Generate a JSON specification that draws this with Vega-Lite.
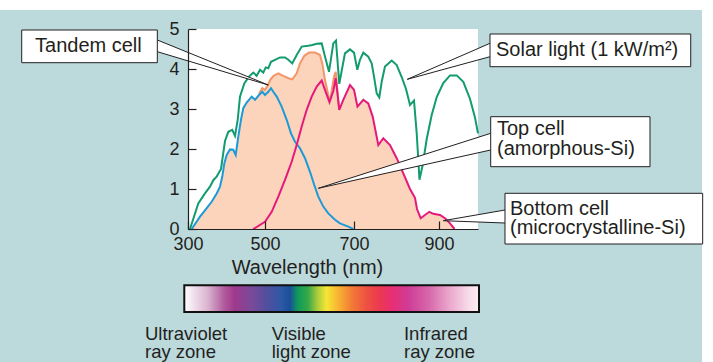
{
  "$schema": "https://vega.github.io/schema/vega-lite/v6.json",
  "width": 290,
  "height": 200,
  "autosize": "none",
  "padding": {"left": 188, "top": 29, "right": 235, "bottom": 133},
  "background": "#bcd9dc",
  "view": {"fill": "white", "stroke": null},
  "config": {"font": "Liberation Sans"},
  "datasets": {
    "strips": [
      {"x": -600, "x2": 2000, "y": 5.475, "y2": 6.5},
      {"x": 1506.9, "x2": 2000, "y": -4, "y2": 6.5}
    ],
    "tandem": [
      {"x": 309.6, "y": 0}, {"x": 331.2, "y": 0.31}, {"x": 348.6, "y": 0.52}, {"x": 361.5, "y": 0.68}, {"x": 374.5, "y": 0.89},
      {"x": 383.1, "y": 1.06}, {"x": 389.1, "y": 1.31}, {"x": 394.3, "y": 1.64}, {"x": 400.5, "y": 1.85}, {"x": 409.1, "y": 1.99},
      {"x": 417.6, "y": 1.98}, {"x": 423.9, "y": 1.85}, {"x": 430.6, "y": 2.31}, {"x": 437.6, "y": 2.73}, {"x": 443.6, "y": 3.02},
      {"x": 452.4, "y": 3.16}, {"x": 465.4, "y": 3.31}, {"x": 474.0, "y": 3.23}, {"x": 484.4, "y": 3.38}, {"x": 493.0, "y": 3.52},
      {"x": 500.0, "y": 3.48}, {"x": 506.7, "y": 3.6}, {"x": 511.9, "y": 3.73}, {"x": 519.3, "y": 3.83}, {"x": 529.9, "y": 3.89},
      {"x": 541.2, "y": 3.83}, {"x": 552.4, "y": 3.77}, {"x": 561.3, "y": 3.74}, {"x": 571.2, "y": 3.89}, {"x": 578.6, "y": 4.14},
      {"x": 588.3, "y": 4.33}, {"x": 598.9, "y": 4.41}, {"x": 612.4, "y": 4.41}, {"x": 623.6, "y": 4.35}, {"x": 628.8, "y": 4.14},
      {"x": 634.8, "y": 3.73}, {"x": 642.3, "y": 3.35}, {"x": 646.1, "y": 3.2}, {"x": 655.1, "y": 3.81}, {"x": 658.9, "y": 3.93},
      {"x": 666.9, "y": 2.98}, {"x": 675.9, "y": 3.23}, {"x": 691.0, "y": 3.6}, {"x": 700.0, "y": 3.48}, {"x": 708.2, "y": 3.06},
      {"x": 721.9, "y": 3.23}, {"x": 733.6, "y": 3.14}, {"x": 744.0, "y": 2.81}, {"x": 757.2, "y": 2.1}, {"x": 768.9, "y": 2.27},
      {"x": 784.7, "y": 2.1}, {"x": 800.5, "y": 1.77}, {"x": 816.0, "y": 1.39}, {"x": 831.8, "y": 1.0}, {"x": 843.5, "y": 0.78},
      {"x": 848.2, "y": 0.5}, {"x": 856.9, "y": 0.27}, {"x": 867.0, "y": 0.35}, {"x": 877.2, "y": 0.43}, {"x": 886.6, "y": 0.38},
      {"x": 902.3, "y": 0.35}, {"x": 913.9, "y": 0.27}, {"x": 925.4, "y": 0.14}, {"x": 935.8, "y": 0}
    ],
    "curves": [
      {"s": "Solar light", "x": 305.2, "y": 0}, {"s": "Solar light", "x": 326.7, "y": 0.64}, {"s": "Solar light", "x": 344.1, "y": 0.89},
      {"s": "Solar light", "x": 357.1, "y": 1.06}, {"s": "Solar light", "x": 365.7, "y": 1.22}, {"s": "Solar light", "x": 374.5, "y": 1.31},
      {"s": "Solar light", "x": 385.7, "y": 1.5}, {"s": "Solar light", "x": 396.1, "y": 2.2}, {"s": "Solar light", "x": 404.7, "y": 2.43},
      {"s": "Solar light", "x": 415.0, "y": 2.48}, {"s": "Solar light", "x": 422.1, "y": 2.33}, {"s": "Solar light", "x": 429.1, "y": 2.73},
      {"s": "Solar light", "x": 435.0, "y": 3.31}, {"s": "Solar light", "x": 446.2, "y": 3.64}, {"s": "Solar light", "x": 458.4, "y": 3.81},
      {"s": "Solar light", "x": 469.6, "y": 3.91}, {"s": "Solar light", "x": 478.4, "y": 3.83}, {"s": "Solar light", "x": 487.0, "y": 3.98},
      {"s": "Solar light", "x": 495.6, "y": 3.91}, {"s": "Solar light", "x": 501.6, "y": 4.04}, {"s": "Solar light", "x": 507.4, "y": 4.02},
      {"s": "Solar light", "x": 513.5, "y": 4.18}, {"s": "Solar light", "x": 522.5, "y": 4.23}, {"s": "Solar light", "x": 533.7, "y": 4.29},
      {"s": "Solar light", "x": 544.9, "y": 4.29}, {"s": "Solar light", "x": 552.4, "y": 4.23}, {"s": "Solar light", "x": 561.3, "y": 4.14},
      {"s": "Solar light", "x": 571.2, "y": 4.35}, {"s": "Solar light", "x": 582.5, "y": 4.56}, {"s": "Solar light", "x": 597.3, "y": 4.58},
      {"s": "Solar light", "x": 606.3, "y": 4.6}, {"s": "Solar light", "x": 616.2, "y": 4.63}, {"s": "Solar light", "x": 627.4, "y": 4.64},
      {"s": "Solar light", "x": 634.8, "y": 4.31}, {"s": "Solar light", "x": 643.8, "y": 3.93}, {"s": "Solar light", "x": 653.5, "y": 4.64},
      {"s": "Solar light", "x": 659.5, "y": 4.71}, {"s": "Solar light", "x": 666.9, "y": 3.63}, {"s": "Solar light", "x": 679.7, "y": 4.39},
      {"s": "Solar light", "x": 691.0, "y": 4.49}, {"s": "Solar light", "x": 700.0, "y": 4.41}, {"s": "Solar light", "x": 707.8, "y": 3.98},
      {"s": "Solar light", "x": 714.1, "y": 4.23}, {"s": "Solar light", "x": 721.9, "y": 4.41}, {"s": "Solar light", "x": 733.6, "y": 4.31},
      {"s": "Solar light", "x": 741.6, "y": 4.14}, {"s": "Solar light", "x": 747.1, "y": 3.81}, {"s": "Solar light", "x": 753.4, "y": 3.39},
      {"s": "Solar light", "x": 759.5, "y": 3.29}, {"s": "Solar light", "x": 765.2, "y": 3.68}, {"s": "Solar light", "x": 772.9, "y": 4.06},
      {"s": "Solar light", "x": 788.7, "y": 4.21}, {"s": "Solar light", "x": 800.5, "y": 4.1}, {"s": "Solar light", "x": 812.2, "y": 3.8},
      {"s": "Solar light", "x": 822.4, "y": 3.5}, {"s": "Solar light", "x": 831.8, "y": 3.1}, {"s": "Solar light", "x": 841.2, "y": 3.21},
      {"s": "Solar light", "x": 847.5, "y": 2.4}, {"s": "Solar light", "x": 854.1, "y": 1.23}, {"s": "Solar light", "x": 861.6, "y": 1.6},
      {"s": "Solar light", "x": 871.1, "y": 2.25}, {"s": "Solar light", "x": 882.8, "y": 2.85}, {"s": "Solar light", "x": 894.6, "y": 3.3},
      {"s": "Solar light", "x": 909.9, "y": 3.65}, {"s": "Solar light", "x": 925.4, "y": 3.84}, {"s": "Solar light", "x": 940.9, "y": 3.84},
      {"s": "Solar light", "x": 956.1, "y": 3.68}, {"s": "Solar light", "x": 971.6, "y": 3.25}, {"s": "Solar light", "x": 983.2, "y": 2.78},
      {"s": "Solar light", "x": 990, "y": 2.39},
      {"s": "Tandem cell", "x": 484.4, "y": 3.38}, {"s": "Tandem cell", "x": 493.0, "y": 3.52}, {"s": "Tandem cell", "x": 500.0, "y": 3.48},
      {"s": "Tandem cell", "x": 506.7, "y": 3.6}, {"s": "Tandem cell", "x": 511.9, "y": 3.73}, {"s": "Tandem cell", "x": 519.3, "y": 3.83},
      {"s": "Tandem cell", "x": 529.9, "y": 3.89}, {"s": "Tandem cell", "x": 541.2, "y": 3.83}, {"s": "Tandem cell", "x": 552.4, "y": 3.77},
      {"s": "Tandem cell", "x": 561.3, "y": 3.74}, {"s": "Tandem cell", "x": 571.2, "y": 3.89}, {"s": "Tandem cell", "x": 578.6, "y": 4.14},
      {"s": "Tandem cell", "x": 588.3, "y": 4.33}, {"s": "Tandem cell", "x": 598.9, "y": 4.41}, {"s": "Tandem cell", "x": 612.4, "y": 4.41},
      {"s": "Tandem cell", "x": 623.6, "y": 4.35}, {"s": "Tandem cell", "x": 628.8, "y": 4.14}, {"s": "Tandem cell", "x": 634.8, "y": 3.73},
      {"s": "Tandem cell", "x": 642.3, "y": 3.35}, {"s": "Tandem cell", "x": 646.1, "y": 3.2}, {"s": "Tandem cell", "x": 655.1, "y": 3.81},
      {"s": "Tandem cell", "x": 658.9, "y": 3.93}, {"s": "Tandem cell", "x": 666.9, "y": 2.98},
      {"s": "Top cell", "x": 309.6, "y": 0}, {"s": "Top cell", "x": 331.2, "y": 0.31}, {"s": "Top cell", "x": 348.6, "y": 0.52},
      {"s": "Top cell", "x": 361.5, "y": 0.68}, {"s": "Top cell", "x": 374.5, "y": 0.89}, {"s": "Top cell", "x": 383.1, "y": 1.06},
      {"s": "Top cell", "x": 389.1, "y": 1.31}, {"s": "Top cell", "x": 394.3, "y": 1.64}, {"s": "Top cell", "x": 400.5, "y": 1.85},
      {"s": "Top cell", "x": 409.1, "y": 1.99}, {"s": "Top cell", "x": 417.6, "y": 1.98}, {"s": "Top cell", "x": 423.9, "y": 1.85},
      {"s": "Top cell", "x": 430.6, "y": 2.31}, {"s": "Top cell", "x": 437.6, "y": 2.73}, {"s": "Top cell", "x": 443.6, "y": 3.02},
      {"s": "Top cell", "x": 452.4, "y": 3.16}, {"s": "Top cell", "x": 465.4, "y": 3.31}, {"s": "Top cell", "x": 474.0, "y": 3.23},
      {"s": "Top cell", "x": 484.4, "y": 3.35}, {"s": "Top cell", "x": 493.0, "y": 3.43}, {"s": "Top cell", "x": 500.0, "y": 3.35},
      {"s": "Top cell", "x": 507.4, "y": 3.43}, {"s": "Top cell", "x": 513.5, "y": 3.52}, {"s": "Top cell", "x": 518.6, "y": 3.43},
      {"s": "Top cell", "x": 526.3, "y": 3.31}, {"s": "Top cell", "x": 537.5, "y": 3.06}, {"s": "Top cell", "x": 548.7, "y": 2.73},
      {"s": "Top cell", "x": 558.4, "y": 2.39}, {"s": "Top cell", "x": 567.4, "y": 2.18}, {"s": "Top cell", "x": 578.6, "y": 2.02},
      {"s": "Top cell", "x": 589.9, "y": 1.77}, {"s": "Top cell", "x": 601.1, "y": 1.43}, {"s": "Top cell", "x": 610.7, "y": 1.1},
      {"s": "Top cell", "x": 619.8, "y": 0.81}, {"s": "Top cell", "x": 631.0, "y": 0.56}, {"s": "Top cell", "x": 642.3, "y": 0.39},
      {"s": "Top cell", "x": 657.3, "y": 0.23}, {"s": "Top cell", "x": 668.5, "y": 0.14}, {"s": "Top cell", "x": 687.2, "y": 0.06},
      {"s": "Top cell", "x": 698.4, "y": 0},
      {"s": "Bottom cell", "x": 469.6, "y": 0}, {"s": "Bottom cell", "x": 500.0, "y": 0.18}, {"s": "Bottom cell", "x": 515.1, "y": 0.43},
      {"s": "Bottom cell", "x": 529.9, "y": 0.81}, {"s": "Bottom cell", "x": 544.9, "y": 1.23}, {"s": "Bottom cell", "x": 560.0, "y": 1.68},
      {"s": "Bottom cell", "x": 571.2, "y": 2.1}, {"s": "Bottom cell", "x": 582.5, "y": 2.56}, {"s": "Bottom cell", "x": 593.7, "y": 2.98},
      {"s": "Bottom cell", "x": 604.9, "y": 3.31}, {"s": "Bottom cell", "x": 616.2, "y": 3.56}, {"s": "Bottom cell", "x": 627.4, "y": 3.71},
      {"s": "Bottom cell", "x": 634.8, "y": 3.48}, {"s": "Bottom cell", "x": 644.9, "y": 3.17}, {"s": "Bottom cell", "x": 653.5, "y": 3.45},
      {"s": "Bottom cell", "x": 658.9, "y": 3.77}, {"s": "Bottom cell", "x": 666.9, "y": 2.98}, {"s": "Bottom cell", "x": 675.9, "y": 3.23},
      {"s": "Bottom cell", "x": 691.0, "y": 3.6}, {"s": "Bottom cell", "x": 700.0, "y": 3.48}, {"s": "Bottom cell", "x": 708.2, "y": 3.06},
      {"s": "Bottom cell", "x": 721.9, "y": 3.23}, {"s": "Bottom cell", "x": 733.6, "y": 3.14}, {"s": "Bottom cell", "x": 744.0, "y": 2.81},
      {"s": "Bottom cell", "x": 757.2, "y": 2.1}, {"s": "Bottom cell", "x": 768.9, "y": 2.27}, {"s": "Bottom cell", "x": 784.7, "y": 2.1},
      {"s": "Bottom cell", "x": 800.5, "y": 1.77}, {"s": "Bottom cell", "x": 816.0, "y": 1.39}, {"s": "Bottom cell", "x": 831.8, "y": 1.0},
      {"s": "Bottom cell", "x": 843.5, "y": 0.78}, {"s": "Bottom cell", "x": 848.2, "y": 0.5}, {"s": "Bottom cell", "x": 856.9, "y": 0.27},
      {"s": "Bottom cell", "x": 867.0, "y": 0.35}, {"s": "Bottom cell", "x": 877.2, "y": 0.43}, {"s": "Bottom cell", "x": 886.6, "y": 0.38},
      {"s": "Bottom cell", "x": 902.3, "y": 0.35}, {"s": "Bottom cell", "x": 913.9, "y": 0.27}, {"s": "Bottom cell", "x": 925.4, "y": 0.14},
      {"s": "Bottom cell", "x": 935.8, "y": 0}
    ],
    "wedges": [
      {"w": "Tandem", "x": 220.3, "y": 4.725, "y2": 4.4325},
      {"w": "Tandem", "x": 507.4, "y": 3.6, "y2": 3.6},
      {"w": "Solar", "x": 825.4, "y": 3.7425, "y2": 3.7425},
      {"w": "Solar", "x": 1017.7, "y": 4.6425, "y2": 4.3075},
      {"w": "Top", "x": 619.8, "y": 1.0175, "y2": 1.0175},
      {"w": "Top", "x": 1019.3, "y": 2.3925, "y2": 1.975},
      {"w": "Bottom", "x": 909.9, "y": 0.2075, "y2": 0.2075},
      {"w": "Bottom", "x": 1052.3, "y": 0.475, "y2": 0.15}
    ],
    "pointers": [
      {"x": 220.3, "y": 4.725, "x2": 507.4, "y2": 3.6},
      {"x": 220.3, "y": 4.4325, "x2": 507.4, "y2": 3.6},
      {"x": 1017.7, "y": 4.6425, "x2": 825.4, "y2": 3.7425},
      {"x": 1017.7, "y": 4.3075, "x2": 825.4, "y2": 3.7425},
      {"x": 1019.3, "y": 2.3925, "x2": 619.8, "y2": 1.0175},
      {"x": 1019.3, "y": 1.975, "x2": 619.8, "y2": 1.0175},
      {"x": 1052.3, "y": 0.475, "x2": 909.9, "y2": 0.2075},
      {"x": 1052.3, "y": 0.15, "x2": 909.9, "y2": 0.2075}
    ],
    "boxes": [
      {"x": -131.9, "x2": 220.3, "y": 4.975, "y2": 4.1575},
      {"x": 1017.7, "x2": 1480.9, "y": 4.875, "y2": 4.0575},
      {"x": 1019.3, "x2": 1386.9, "y": 2.8075, "y2": 1.5575},
      {"x": 1052.3, "x2": 1508.5, "y": 0.8925, "y2": -0.375}
    ],
    "boxlabels": [
      {"x": -97.3, "y": 4.4175, "t": "Tandem cell"},
      {"x": 1031.5, "y": 4.325, "t": "Solar light (1 kW/m²)"},
      {"x": 1033.8, "y": 2.35, "t": "Top cell"},
      {"x": 1033.8, "y": 1.85, "t": "(amorphous-Si)"},
      {"x": 1063.8, "y": 0.35, "t": "Bottom cell"},
      {"x": 1063.8, "y": -0.1125, "t": "(microcrystalline-Si)"}
    ],
    "zones": [
      {"x": 188.3, "y": -2.775, "t": "Ultraviolet"},
      {"x": 188.3, "y": -3.225, "t": "ray zone"},
      {"x": 515.1, "y": -2.775, "t": "Visible"},
      {"x": 515.1, "y": -3.225, "t": "light zone"},
      {"x": 817.6, "y": -2.775, "t": "Infrared"},
      {"x": 817.6, "y": -3.225, "t": "ray zone"}
    ],
    "bar": [
      {"x": 290.4, "x2": 992.3, "y": -1.4075, "y2": -2.075}
    ]
  },
  "encoding": {
    "x": {
      "field": "x", "type": "quantitative",
      "scale": {"domain": [300, 500, 700, 900, 990], "range": [0, 77, 166, 251, 290], "nice": false, "zero": false},
      "axis": {
        "values": [300, 500, 700, 900], "title": "Wavelength (nm)", "grid": false,
        "tickSize": -8, "labelPadding": 14, "labelFontSize": 18, "labelColor": "#231f20",
        "tickColor": "#231f20", "domainColor": "#231f20", "domainWidth": 1.2, "tickWidth": 1.2,
        "titleFontSize": 20, "titleFontWeight": "normal", "titleColor": "#231f20",
        "titleX": 119, "titleY": 44, "titleBaseline": "alphabetic", "titleAlign": "center",
        "labelFlush": false, "labelBound": false, "labelOverlap": false, "zindex": 1
      }
    },
    "y": {
      "field": "y", "type": "quantitative",
      "scale": {"domain": [0, 5], "nice": false, "zero": false},
      "axis": {
        "values": [0, 1, 2, 3, 4, 5], "title": null, "grid": false,
        "tickSize": -8, "labelPadding": 17, "labelFontSize": 18, "labelColor": "#231f20",
        "tickColor": "#231f20", "domainColor": "#231f20", "domainWidth": 1.2, "tickWidth": 1.2,
        "labelFlush": false, "labelBound": false, "labelOverlap": false, "zindex": 1
      }
    }
  },
  "layer": [
    {
      "data": {"name": "strips"},
      "mark": {"type": "rect", "fill": "white", "clip": false},
      "encoding": {"x2": {"field": "x2"}, "y2": {"field": "y2"}}
    },
    {
      "data": {"name": "tandem"},
      "mark": {"type": "area", "color": "#fcd4bb", "clip": false}
    },
    {
      "data": {"name": "curves"},
      "mark": {"type": "line", "strokeWidth": 2, "clip": false},
      "encoding": {
        "color": {
          "field": "s", "type": "nominal", "legend": null,
          "scale": {"domain": ["Solar light", "Tandem cell", "Top cell", "Bottom cell"], "range": ["#129c6e", "#f3966a", "#1c9ad8", "#e5197b"]}
        }
      }
    },
    {
      "data": {"name": "wedges"},
      "mark": {"type": "area", "color": "white", "clip": false},
      "encoding": {"y2": {"field": "y2"}, "detail": {"field": "w"}}
    },
    {
      "data": {"name": "pointers"},
      "mark": {"type": "rule", "color": "#231f20", "strokeWidth": 1, "clip": false},
      "encoding": {"x2": {"field": "x2"}, "y2": {"field": "y2"}}
    },
    {
      "data": {"name": "boxes"},
      "mark": {"type": "rect", "fill": "white", "stroke": "#231f20", "strokeWidth": 1, "clip": false},
      "encoding": {"x2": {"field": "x2"}, "y2": {"field": "y2"}}
    },
    {
      "data": {"name": "bar"},
      "mark": {
        "type": "rect", "stroke": "#111111", "strokeWidth": 2, "clip": false,
        "fill": {
          "gradient": "linear", "x1": 0, "y1": 0, "x2": 1, "y2": 0,
          "stops": [
            {"offset": 0, "color": "#ffffff"},
            {"offset": 0.08, "color": "#dab3cf"},
            {"offset": 0.136, "color": "#b05a9c"},
            {"offset": 0.17, "color": "#a0398c"},
            {"offset": 0.227, "color": "#7a4a9a"},
            {"offset": 0.284, "color": "#4f4f9e"},
            {"offset": 0.33, "color": "#2c58a6"},
            {"offset": 0.358, "color": "#1a4e98"},
            {"offset": 0.386, "color": "#109c5a"},
            {"offset": 0.42, "color": "#38a848"},
            {"offset": 0.455, "color": "#b4cf3a"},
            {"offset": 0.483, "color": "#f5e634"},
            {"offset": 0.523, "color": "#f8b232"},
            {"offset": 0.568, "color": "#f27b36"},
            {"offset": 0.614, "color": "#ee5442"},
            {"offset": 0.659, "color": "#ec3a4e"},
            {"offset": 0.705, "color": "#e82e74"},
            {"offset": 0.76, "color": "#cf3c96"},
            {"offset": 0.83, "color": "#d767aa"},
            {"offset": 0.898, "color": "#eaa6cc"},
            {"offset": 0.966, "color": "#f8dce9"},
            {"offset": 1, "color": "#fdeef4"}
          ]
        }
      },
      "encoding": {"x2": {"field": "x2"}, "y2": {"field": "y2"}}
    },
    {
      "data": {"name": "boxlabels"},
      "mark": {"type": "text", "align": "left", "baseline": "alphabetic", "fontSize": 20, "color": "#231f20", "clip": false},
      "encoding": {"text": {"field": "t"}}
    },
    {
      "data": {"name": "zones"},
      "mark": {"type": "text", "align": "left", "baseline": "alphabetic", "fontSize": 18.5, "color": "#231f20", "clip": false},
      "encoding": {"text": {"field": "t"}}
    }
  ]
}
